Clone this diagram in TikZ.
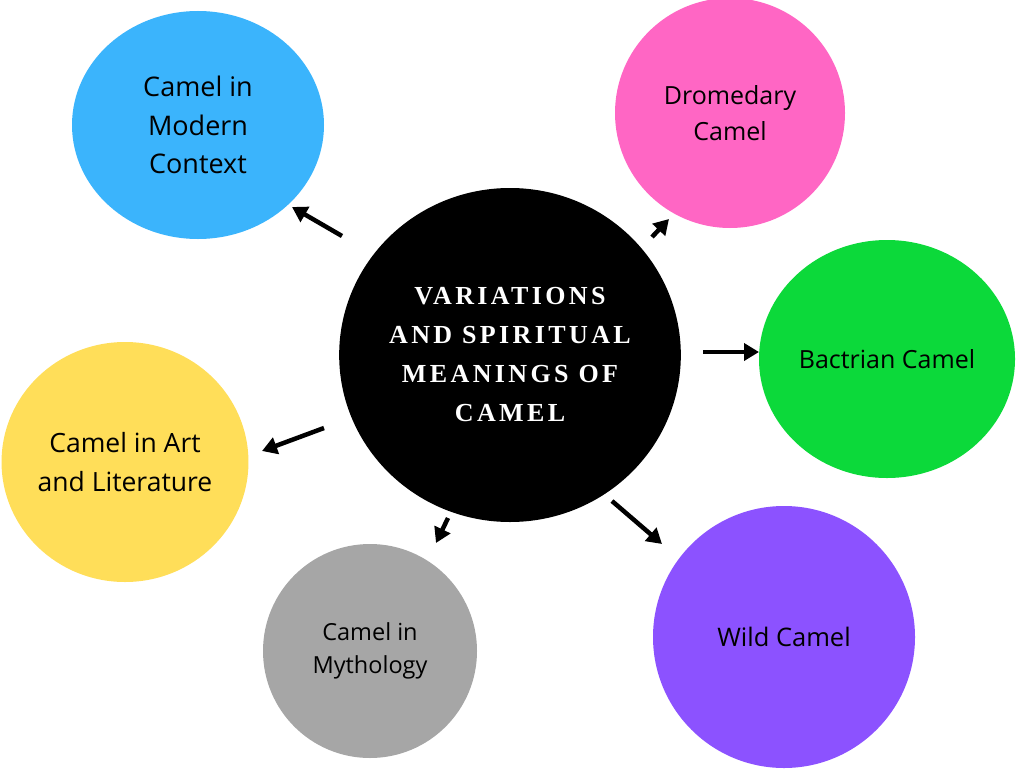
\documentclass[tikz,border=0pt]{standalone}
\usepackage{fontspec}
\setmainfont{Open Sans}
\newfontfamily\titlefont[LetterSpace=13]{Liberation Serif}
\usetikzlibrary{arrows.meta,shapes.geometric}
\definecolor{cblue}{HTML}{3BB4FC}
\definecolor{cpink}{HTML}{FF66C4}
\definecolor{cgreen}{HTML}{0CD93A}
\definecolor{cpurple}{HTML}{8C52FF}
\definecolor{cgray}{HTML}{A6A6A6}
\definecolor{cyellow}{HTML}{FFDE59}
\tikzset{
  bubble/.style={ellipse, inner sep=0pt, align=center, text=black},
  link/.style={line width=4.5pt, -{Triangle[length=15pt,width=17pt]}},
}
\begin{document}
\begin{tikzpicture}[x=1pt,y=-1pt]
\useasboundingbox[fill=white] (0,0) rectangle (1024,768);
\node[bubble, fill=black, minimum width=336pt, minimum height=334pt, text=white, font=\titlefont\bfseries\fontsize{26}{39}\selectfont] (c) at (510,355) {VARIATIONS\\AND SPIRITUAL\\MEANINGS OF\\CAMEL};
\node[bubble, fill=cblue, minimum width=252pt, minimum height=228pt, font=\fontsize{27}{38.5}\selectfont] (m) at (198,125) {Camel in\\Modern\\Context};
\node[bubble, fill=cpink, minimum width=230pt, minimum height=230pt, font=\fontsize{25}{36}\selectfont] (d) at (730,113) {Dromedary\\Camel};
\node[bubble, fill=cgreen, minimum width=256pt, minimum height=238pt, font=\fontsize{25}{36}\selectfont] (b) at (887,359) {Bactrian Camel};
\node[bubble, fill=cpurple, minimum width=262pt, minimum height=262pt, font=\fontsize{25.5}{36}\selectfont] (w) at (784,637) {Wild Camel};
\node[bubble, fill=cgray, minimum width=214pt, minimum height=214pt, font=\fontsize{23.5}{33}\selectfont] (y) at (370,651) {Camel in\\Mythology};
\node[bubble, fill=cyellow, minimum width=240pt, minimum height=240pt, font=\fontsize{26.5}{38.5}\selectfont] (a) at (125,462) {Camel in Art\\and Literature};
\coordinate (sm) at (342,236); \coordinate (em) at (292,207);
\coordinate (sd) at (652,237); \coordinate (ed) at (669,219);
\coordinate (sb) at (703,352); \coordinate (eb) at (759,352);
\coordinate (sw) at (612,501); \coordinate (ew) at (662,544);
\coordinate (sy) at (448,518); \coordinate (ey) at (436,543);
\coordinate (sa) at (324,428); \coordinate (ea) at (262,451);
\draw[link] (sm) -- (em);
\draw[link] (sd) -- (ed);
\draw[link] (sb) -- (eb);
\draw[link] (sw) -- (ew);
\draw[link] (sy) -- (ey);
\draw[link] (sa) -- (ea);
\end{tikzpicture}
\end{document}
